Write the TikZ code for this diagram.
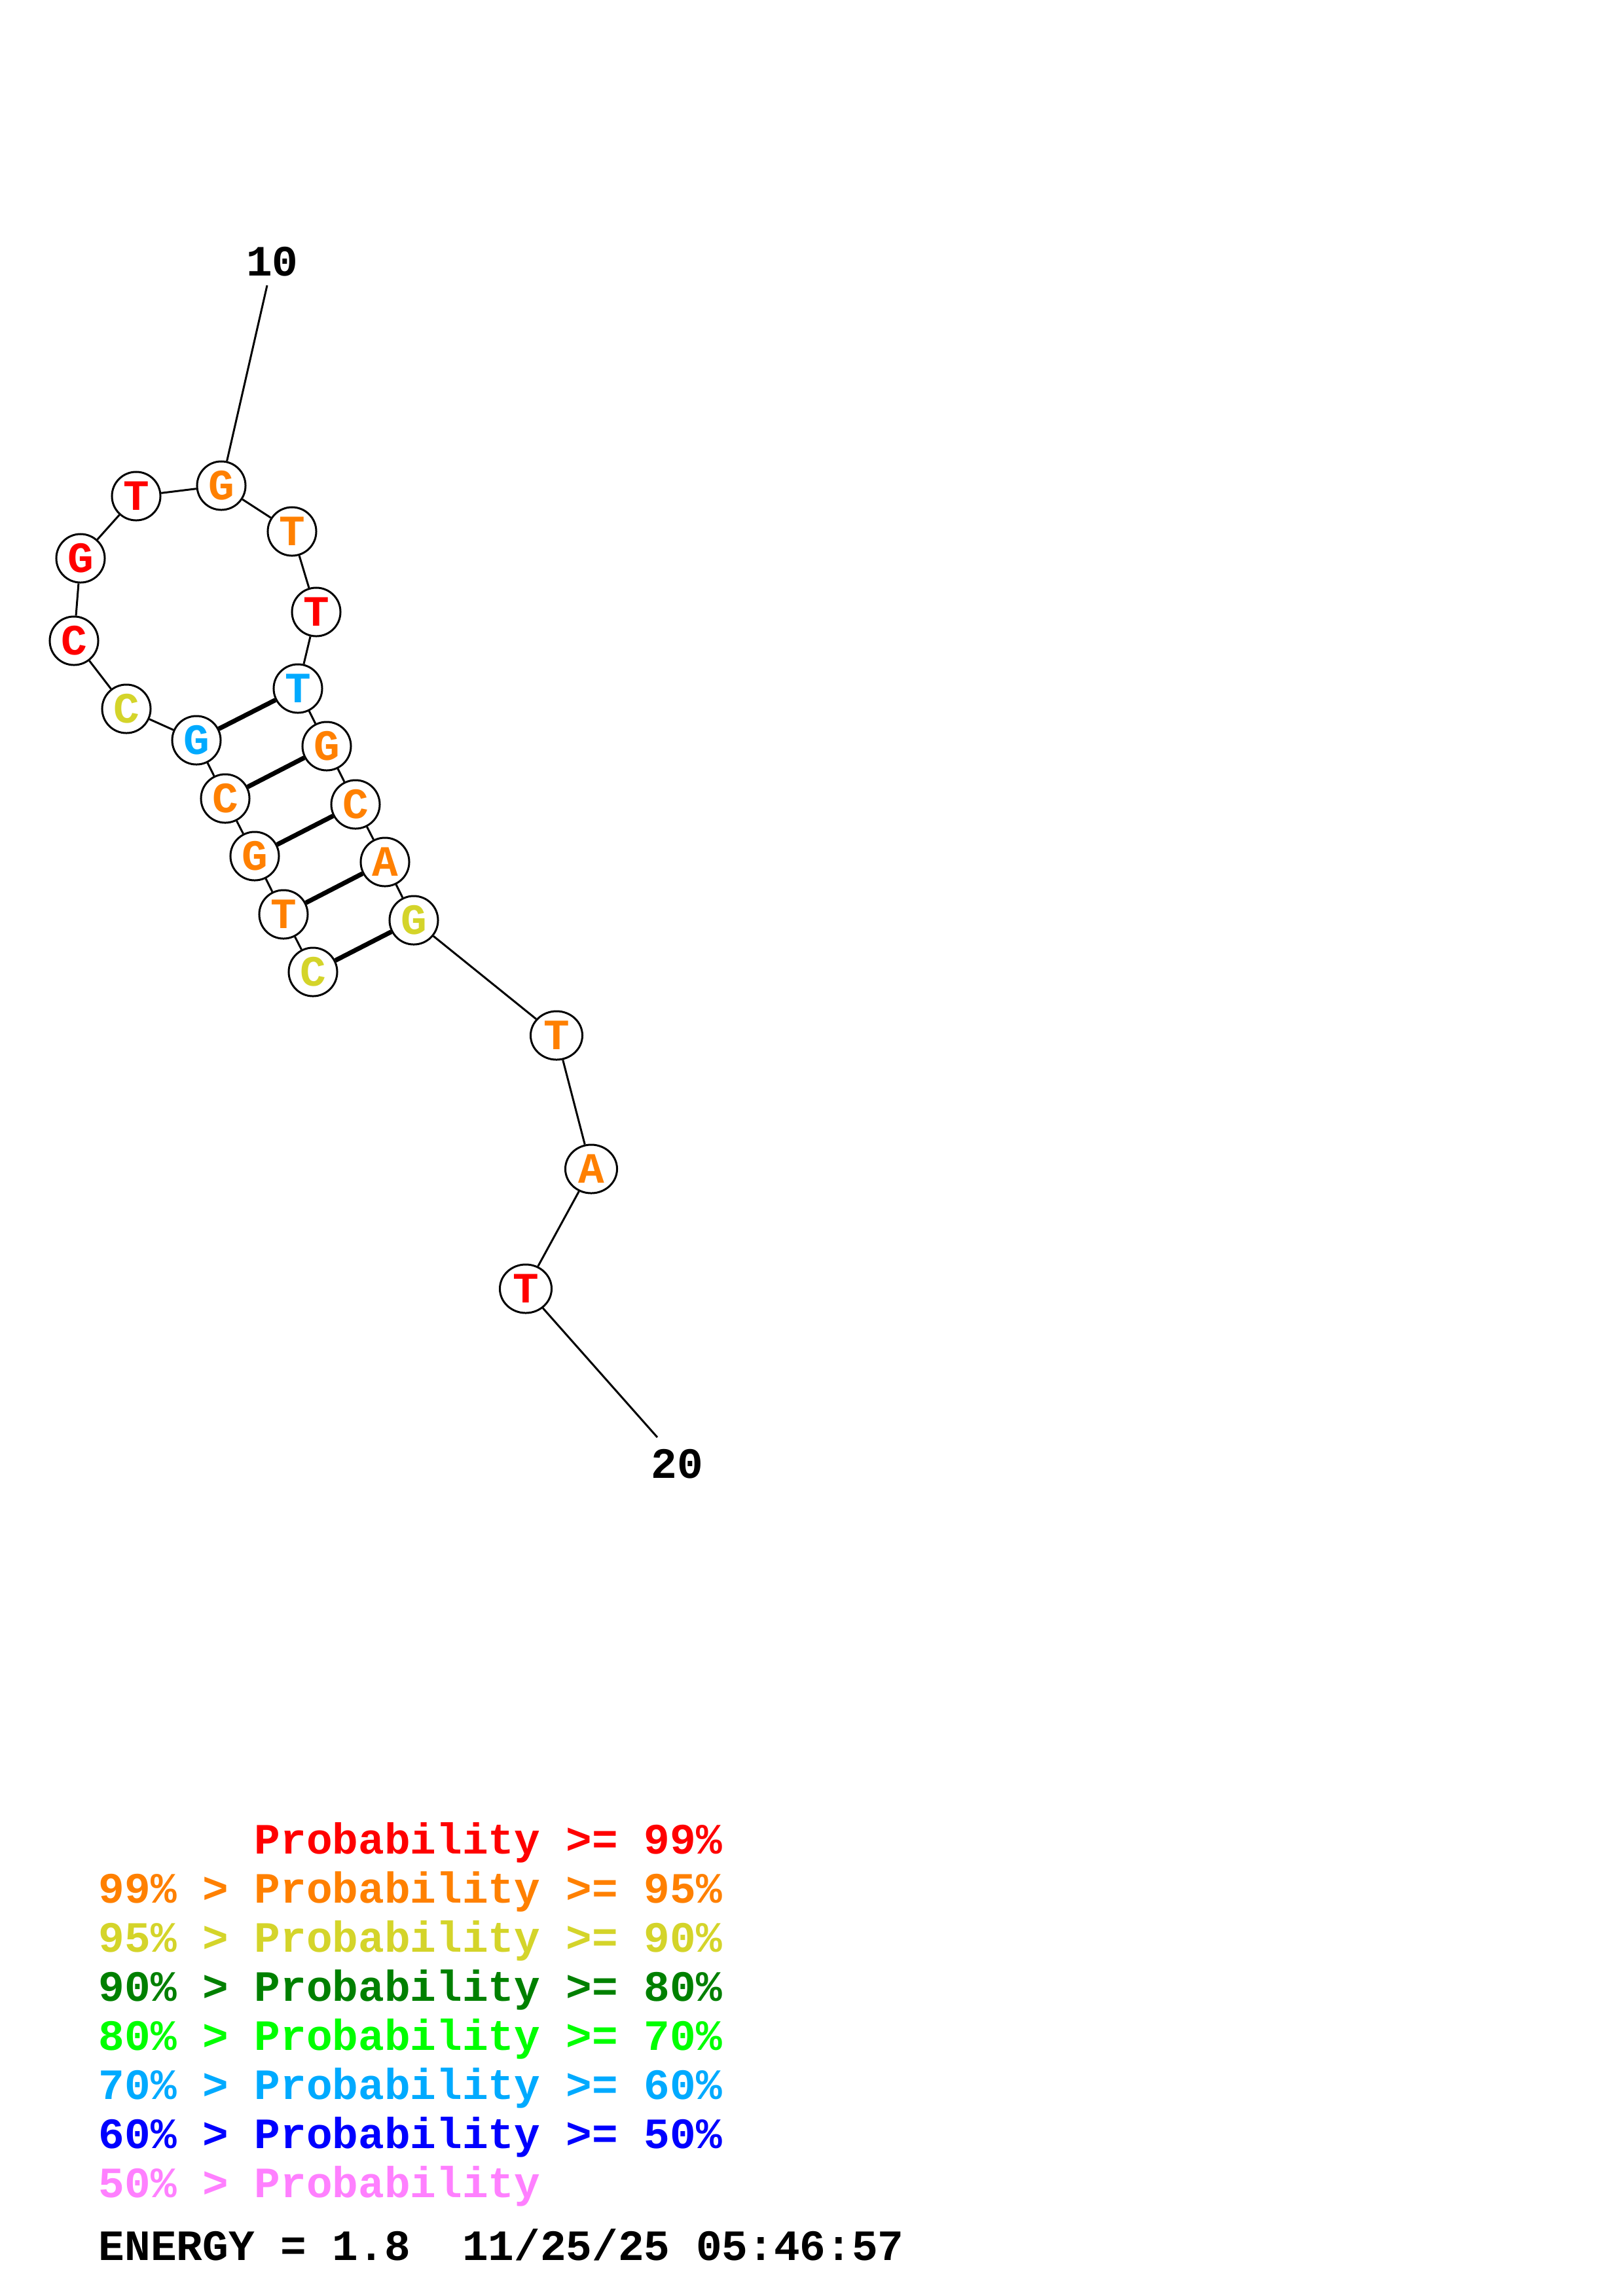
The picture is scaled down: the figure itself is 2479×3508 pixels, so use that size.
\documentclass[tikz,border=0pt]{standalone}
\usepackage{fontspec}
\setmonofont{Liberation Mono}
\usepackage{xcolor}
\usepackage{tikz}
\usetikzlibrary{shapes.geometric}
\definecolor{pred}{RGB}{255, 0, 0}
\definecolor{porange}{RGB}{255, 128, 0}
\definecolor{pyellow}{RGB}{212, 212, 42}
\definecolor{pdkgreen}{RGB}{0, 128, 0}
\definecolor{pgreen}{RGB}{0, 255, 0}
\definecolor{pcyan}{RGB}{0, 170, 255}
\definecolor{pblue}{RGB}{0, 0, 255}
\definecolor{ppink}{RGB}{255, 128, 255}
\newcommand{\rnafont}{\ttfamily\bfseries\fontsize{18.8}{22}\selectfont}
\tikzstyle{nuc} = [circle, draw, fill=white, line width=0.85pt, minimum size=0.74cm, inner sep=0pt, font=\rnafont]
\tikzstyle{nucwide} = [ellipse, draw, fill=white, line width=0.85pt, minimum width=0.79cm, minimum height=0.74cm, inner sep=0pt, font=\rnafont]
\tikzstyle{backbone} = [line width=0.85pt]
\tikzstyle{bond} = [line width=2pt]
\tikzstyle{legendtext} = [anchor=base west, inner sep=0pt, font=\rnafont]

\begin{document}
\begin{tikzpicture}[x=0.01cm, y=-0.01cm]
    \useasboundingbox (0,0) rectangle (2479,3508);

    % Bases
    \node[nuc, text=pyellow] (n1) at (478,1485) {C};
    \node[nuc, text=porange] (n2) at (433,1397) {T};
    \node[nuc, text=porange] (n3) at (389,1308) {G};
    \node[nuc, text=porange] (n4) at (344,1220) {C};
    \node[nuc, text=pcyan] (n5) at (300,1131) {G};
    \node[nuc, text=pyellow] (n6) at (193,1083) {C};
    \node[nuc, text=pred] (n7) at (113,979) {C};
    \node[nuc, text=pred] (n8) at (123,853) {G};
    \node[nuc, text=pred] (n9) at (208,758) {T};
    \node[nuc, text=porange] (n10) at (338,742) {G};
    \node[nuc, text=porange] (n11) at (446,812) {T};
    \node[nuc, text=pred] (n12) at (483,935) {T};
    \node[nuc, text=pcyan] (n13) at (455,1052) {T};
    \node[nuc, text=porange] (n14) at (499,1140) {G};
    \node[nuc, text=porange] (n15) at (543,1229) {C};
    \node[nuc, text=porange] (n16) at (588,1317) {A};
    \node[nuc, text=pyellow] (n17) at (632,1406) {G};
    \node[nucwide, text=porange] (n18) at (850,1582) {T};
    \node[nucwide, text=porange] (n19) at (903,1786) {A};
    \node[nucwide, text=pred] (n20) at (803,1969) {T};

    % Backbone
    \draw[backbone] (n1) -- (n2) -- (n3) -- (n4) -- (n5) -- (n6) -- (n7) -- (n8) -- (n9) -- (n10)
        -- (n11) -- (n12) -- (n13) -- (n14) -- (n15) -- (n16) -- (n17) -- (n18) -- (n19) -- (n20);

    % Pairs
    \draw[bond] (n1) -- (n17);
    \draw[bond] (n2) -- (n16);
    \draw[bond] (n3) -- (n15);
    \draw[bond] (n4) -- (n14);
    \draw[bond] (n5) -- (n13);

    % Numbering
    \node[font=\rnafont, inner sep=0pt] (lab10) at (416,400) {10};
    \coordinate (tick10) at (408,436);
    \draw[backbone] (n10) -- (tick10);
    \node[font=\rnafont, inner sep=0pt] (lab20) at (1034,2237) {20};
    \coordinate (tick20) at (1004,2196);
    \draw[backbone] (n20) -- (tick20);

    % Legend
    \node[legendtext, text=pred] (leg1) at (150,2832) {\phantom{99\% > }Probability >= 99\%};
    \node[legendtext, text=porange] (leg2) at (150,2907) {99\% > Probability >= 95\%};
    \node[legendtext, text=pyellow] (leg3) at (150,2982) {95\% > Probability >= 90\%};
    \node[legendtext, text=pdkgreen] (leg4) at (150,3057) {90\% > Probability >= 80\%};
    \node[legendtext, text=pgreen] (leg5) at (150,3132) {80\% > Probability >= 70\%};
    \node[legendtext, text=pcyan] (leg6) at (150,3207) {70\% > Probability >= 60\%};
    \node[legendtext, text=pblue] (leg7) at (150,3282) {60\% > Probability >= 50\%};
    \node[legendtext, text=ppink] (leg8) at (150,3357) {50\% > Probability};
    \node[legendtext] (energy) at (150,3453) {ENERGY = 1.8\ \ 11/25/25 05:46:57};
\end{tikzpicture}
\end{document}
